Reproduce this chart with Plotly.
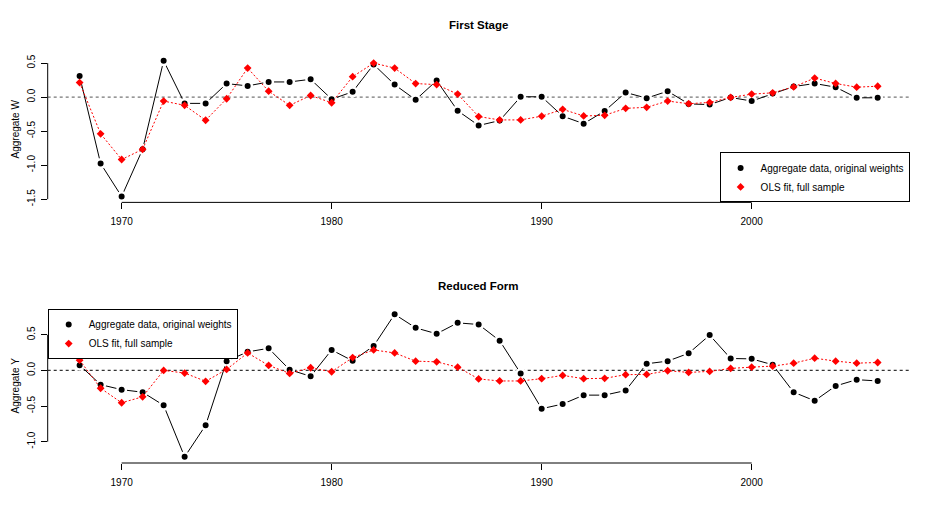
import plotly.graph_objects as go

# page body has an 8px margin; figure is sized so the whole page fits 934x526
OFF = 8
W, H = 934 - 2 * OFF, 526 - 2 * OFF

years = list(range(1968, 2007))

w_agg = [0.31, -0.976, -1.46, -0.767, 0.534, -0.092, -0.092, 0.199, 0.165, 0.223, 0.223, 0.262,
         -0.03, 0.078, 0.48, 0.184, -0.04, 0.243, -0.2, -0.417, -0.345, 0.005, 0.005, -0.28, -0.39, -0.204,
         0.068, -0.015, 0.087, -0.1, -0.11, -0.005, -0.058, 0.053, 0.155, 0.2, 0.146, -0.01, -0.01]
w_ols = [0.214, -0.539, -0.917, -0.767, -0.058, -0.121, -0.34, -0.024, 0.427, 0.087, -0.121, 0.024,
         -0.083, 0.30, 0.50, 0.427, 0.199, 0.184, 0.044, -0.286, -0.335, -0.335, -0.28, -0.18, -0.277, -0.267,
         -0.165, -0.15, -0.058, -0.097, -0.078, -0.005, 0.044, 0.063, 0.15, 0.28, 0.2, 0.146, 0.16]
y_agg = [0.074, -0.2, -0.27, -0.306, -0.49, -1.213, -0.77, 0.13, 0.26, 0.31, 0.01, -0.083,
         0.287, 0.134, 0.343, 0.787, 0.597, 0.514, 0.667, 0.644, 0.417, -0.042, -0.537, -0.472, -0.347, -0.347,
         -0.282, 0.093, 0.13, 0.24, 0.495, 0.167, 0.162, 0.079, -0.306, -0.426, -0.218, -0.13, -0.148]
y_ols = [0.144, -0.25, -0.454, -0.37, 0.0, -0.037, -0.153, 0.014, 0.245, 0.07, -0.042, 0.037,
         -0.019, 0.18, 0.287, 0.245, 0.13, 0.12, 0.046, -0.12, -0.148, -0.148, -0.116, -0.07, -0.116, -0.111,
         -0.06, -0.056, -0.005, -0.028, -0.014, 0.028, 0.046, 0.06, 0.102, 0.171, 0.13, 0.102, 0.111]

x_ticks = [1970, 1980, 1990, 2000]
x_ticktext = ["1970", "1980", "1990", "2000"]
top_yticks = [-1.5, -1.0, -0.5, 0.0, 0.5]
top_yticktext = ["-1.5", "-1.0", "-0.5", "0.0", "0.5"]
bot_yticks = [-1.0, -0.5, 0.0, 0.5]
bot_yticktext = ["-1.0", "-0.5", "0.0", "0.5"]

titles = ["First Stage", "Reduced Form"]
ylabels = ["Aggregate W", "Aggregate Y"]
legend_names = ["Aggregate data, original weights", "OLS fit, full sample"]

FONT = "Liberation Sans, Arial, Helvetica, sans-serif"
FS = 10

def px_x(p):
    return (p - OFF) / W

def px_y(p):
    return 1 - (p - OFF) / H

# plot regions (pixels in the reference picture)
left, right = 47.7, 909.6
top1, bot1 = 55.0, 203.3
top2, bot2 = 311.0, 466.5

fig = go.Figure()

def add_panel(agg, ols, xa, ya, legend):
    fig.add_trace(go.Scatter(x=years, y=agg, mode="lines", line=dict(color="black", width=1),
                             xaxis=xa, yaxis=ya, showlegend=False, hoverinfo="skip"))
    fig.add_trace(go.Scatter(x=years, y=agg, mode="markers", name=legend_names[0],
                             marker=dict(symbol="circle", size=8.5, color="black",
                                         line=dict(color="white", width=2.5)),
                             xaxis=xa, yaxis=ya, legend=legend))
    fig.add_trace(go.Scatter(x=years, y=ols, mode="lines", line=dict(color="red", width=1, dash="2px,2px"),
                             xaxis=xa, yaxis=ya, showlegend=False, hoverinfo="skip"))
    fig.add_trace(go.Scatter(x=years, y=ols, mode="markers", name=legend_names[1],
                             marker=dict(symbol="diamond", size=6, color="red"),
                             xaxis=xa, yaxis=ya, legend=legend))

add_panel(w_agg, w_ols, "x", "y", "legend")
add_panel(y_agg, y_ols, "x2", "y2", "legend2")

xrange = [1966.48, 2007.52]
tickfont = dict(family=FONT, size=FS, color="black")

common_x = dict(range=xrange, tickvals=x_ticks, ticktext=x_ticktext, ticks="outside", ticklen=6,
                tickcolor="black", tickwidth=1, showgrid=False, zeroline=False, showline=False,
                tickfont=tickfont, domain=[px_x(left), px_x(right)], ticklabelstandoff=4)
common_y = dict(ticks="outside", ticklen=6, tickcolor="black", tickwidth=1, showgrid=False,
                zeroline=False, showline=False, tickfont=tickfont, tickangle=-90, ticklabelstandoff=2)

legend_common = dict(bordercolor="black", borderwidth=1, bgcolor="white",
                     font=dict(family=FONT, size=FS, color="black"), tracegroupgap=0, itemwidth=30)

fig.update_layout(
    width=W, height=H,
    margin=dict(l=0, r=0, t=0, b=0),
    paper_bgcolor="white", plot_bgcolor="white",
    font=dict(family=FONT, size=FS, color="black"),
    xaxis=dict(**common_x, anchor="y"),
    yaxis=dict(**common_y, anchor="x", range=[-1.547, 0.611], tickvals=top_yticks,
               ticktext=top_yticktext, domain=[px_y(bot1), px_y(top1)]),
    xaxis2=dict(**common_x, anchor="y2"),
    yaxis2=dict(**common_y, anchor="x2", range=[-1.299, 0.861], tickvals=bot_yticks,
                ticktext=bot_yticktext, domain=[px_y(bot2), px_y(top2)]),
    legend=dict(x=px_x(right), y=px_y(bot1), xanchor="right", yanchor="bottom", **legend_common),
    legend2=dict(x=px_x(left), y=px_y(top2), xanchor="left", yanchor="top", **legend_common),
    showlegend=True,
)

shapes = []
for xa, ya, yt, dash, col in [("x", "y", top_yticks, "dot", "#777777"),
                               ("x2", "y2", bot_yticks, "3px,3px", "#333333")]:
    shapes.append(dict(type="line", xref=xa + " domain", yref=ya, x0=0, x1=1, y0=0, y1=0,
                       line=dict(color=col, width=1.2, dash=dash), layer="below"))
    shapes.append(dict(type="line", xref=xa, yref=ya + " domain", x0=x_ticks[0], x1=x_ticks[-1],
                       y0=0, y1=0, line=dict(color="black", width=1)))
    shapes.append(dict(type="line", xref=xa + " domain", yref=ya, x0=0, x1=0,
                       y0=yt[0], y1=yt[-1], line=dict(color="black", width=1)))
fig.update_layout(shapes=shapes)

annotations = [
    dict(text="<b>" + titles[0] + "</b>", x=px_x(478.7), y=px_y(24.3), xref="paper", yref="paper",
         showarrow=False, font=dict(family=FONT, size=11.5, color="black"), xanchor="center", yanchor="middle"),
    dict(text="<b>" + titles[1] + "</b>", x=px_x(478.7), y=px_y(287.7), xref="paper", yref="paper",
         showarrow=False, font=dict(family=FONT, size=11.5, color="black"), xanchor="center", yanchor="middle"),
    dict(text=ylabels[0], x=0, y=px_y((top1 + bot1) / 2), xref="paper", yref="paper", textangle=-90,
         showarrow=False, font=dict(family=FONT, size=FS, color="black"), xanchor="left", yanchor="middle"),
    dict(text=ylabels[1], x=0, y=px_y((top2 + bot2) / 2), xref="paper", yref="paper", textangle=-90,
         showarrow=False, font=dict(family=FONT, size=FS, color="black"), xanchor="left", yanchor="middle"),
]
fig.update_layout(annotations=annotations)

fig.write_html("out.html")
